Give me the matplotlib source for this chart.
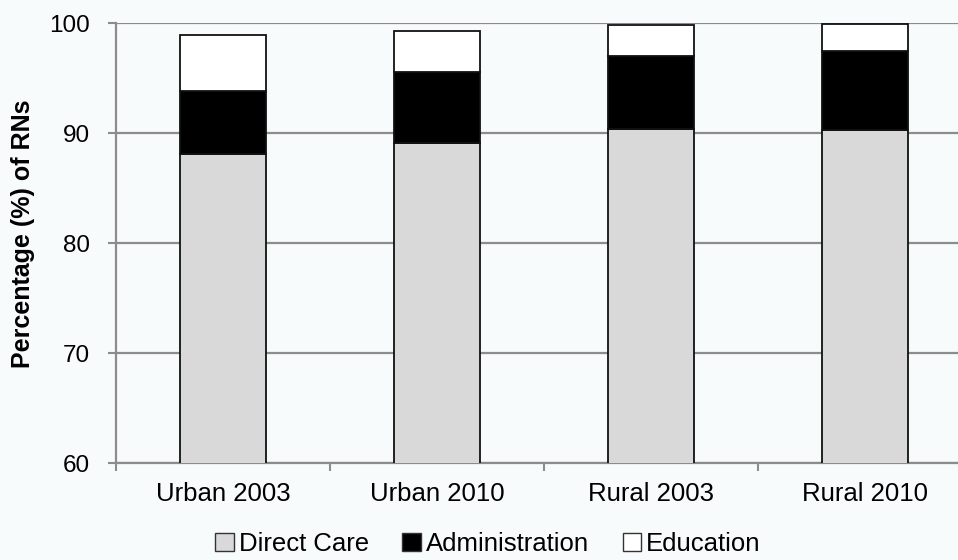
import matplotlib
matplotlib.use("Agg")
import matplotlib.pyplot as plt
import numpy as np

categories = ["Urban 2003", "Urban 2010", "Rural 2003", "Rural 2010"]
direct_care = [88.1, 89.15, 90.35, 90.25]
administration = [5.75, 6.45, 6.7, 7.25]
education = [5.1, 3.7, 2.75, 2.4]
series_names = ["Direct Care", "Administration", "Education"]
yticks = [60, 70, 80, 90, 100]

plt.rcParams['font.family'] = ['Liberation Sans', 'DejaVu Sans']

W, H = 958, 560
fig = plt.figure(figsize=(W/100, H/100), dpi=100)
bg = '#f7fbfc'
fig.patch.set_facecolor(bg)
ax_h = 463 - 23.3
ax = fig.add_axes([116/W, 1 - 463/H, 856/W, ax_h/H])
ax.set_facecolor(bg)

x = np.arange(len(categories))
bw = 0.4
ec = '#111111'
lw = 1.3
b1 = ax.bar(x, direct_care, bw, bottom=0, color='#d9d9d9', edgecolor=ec, linewidth=lw, label=series_names[0], zorder=3)
b2 = ax.bar(x, administration, bw, bottom=direct_care, color='#000000', edgecolor=ec, linewidth=lw, label=series_names[1], zorder=3)
bot3 = [a + b for a, b in zip(direct_care, administration)]
b3 = ax.bar(x, education, bw, bottom=bot3, color='#ffffff', edgecolor=ec, linewidth=lw, label=series_names[2], zorder=3)

ax.set_ylim(60, 100)
ax.set_xlim(-0.5, 3.5)
ax.set_yticks(yticks)
ax.set_yticklabels([str(v) for v in yticks], fontsize=17.5)
ax.yaxis.grid(True, color='#8c8c8c', linewidth=1.6, zorder=0)
ax.set_axisbelow(True)

ax.set_xticks(x)
ax.set_xticklabels(categories, fontsize=18.5)
ax.set_xticks(np.arange(-0.5, 4.0, 1.0), minor=True)
ax.tick_params(axis='x', which='major', length=0, pad=14)
ax.tick_params(axis='x', which='minor', length=6, width=1.5, color='#8c8c8c', direction='out')
ax.tick_params(axis='y', length=6, width=1.5, color='#8c8c8c', direction='out', pad=13)

for s in ['top', 'right']:
    ax.spines[s].set_visible(False)
for s in ['left', 'bottom']:
    ax.spines[s].set_color('#8c8c8c')
    ax.spines[s].set_linewidth(1.6)

ax.set_ylabel("Percentage (%) of RNs", fontsize=18, fontweight='bold')
ax.yaxis.set_label_coords((22.5 - 116) / 856, (463 - 233.5) / ax_h)
ax.yaxis.label.set_verticalalignment('center')

leg = fig.legend(handles=[b1, b2, b3], labels=series_names, loc='center',
                 bbox_to_anchor=(488/W, 1 - 544/H), ncol=3, frameon=False,
                 fontsize=18.5, handlelength=0.72, handleheight=0.72, handletextpad=0.2,
                 columnspacing=1.3, borderpad=0.1)
for h in leg.legend_handles:
    h.set_edgecolor('#333333')
    h.set_linewidth(1.0)

fig.savefig("out.png", dpi=100, facecolor=bg)
